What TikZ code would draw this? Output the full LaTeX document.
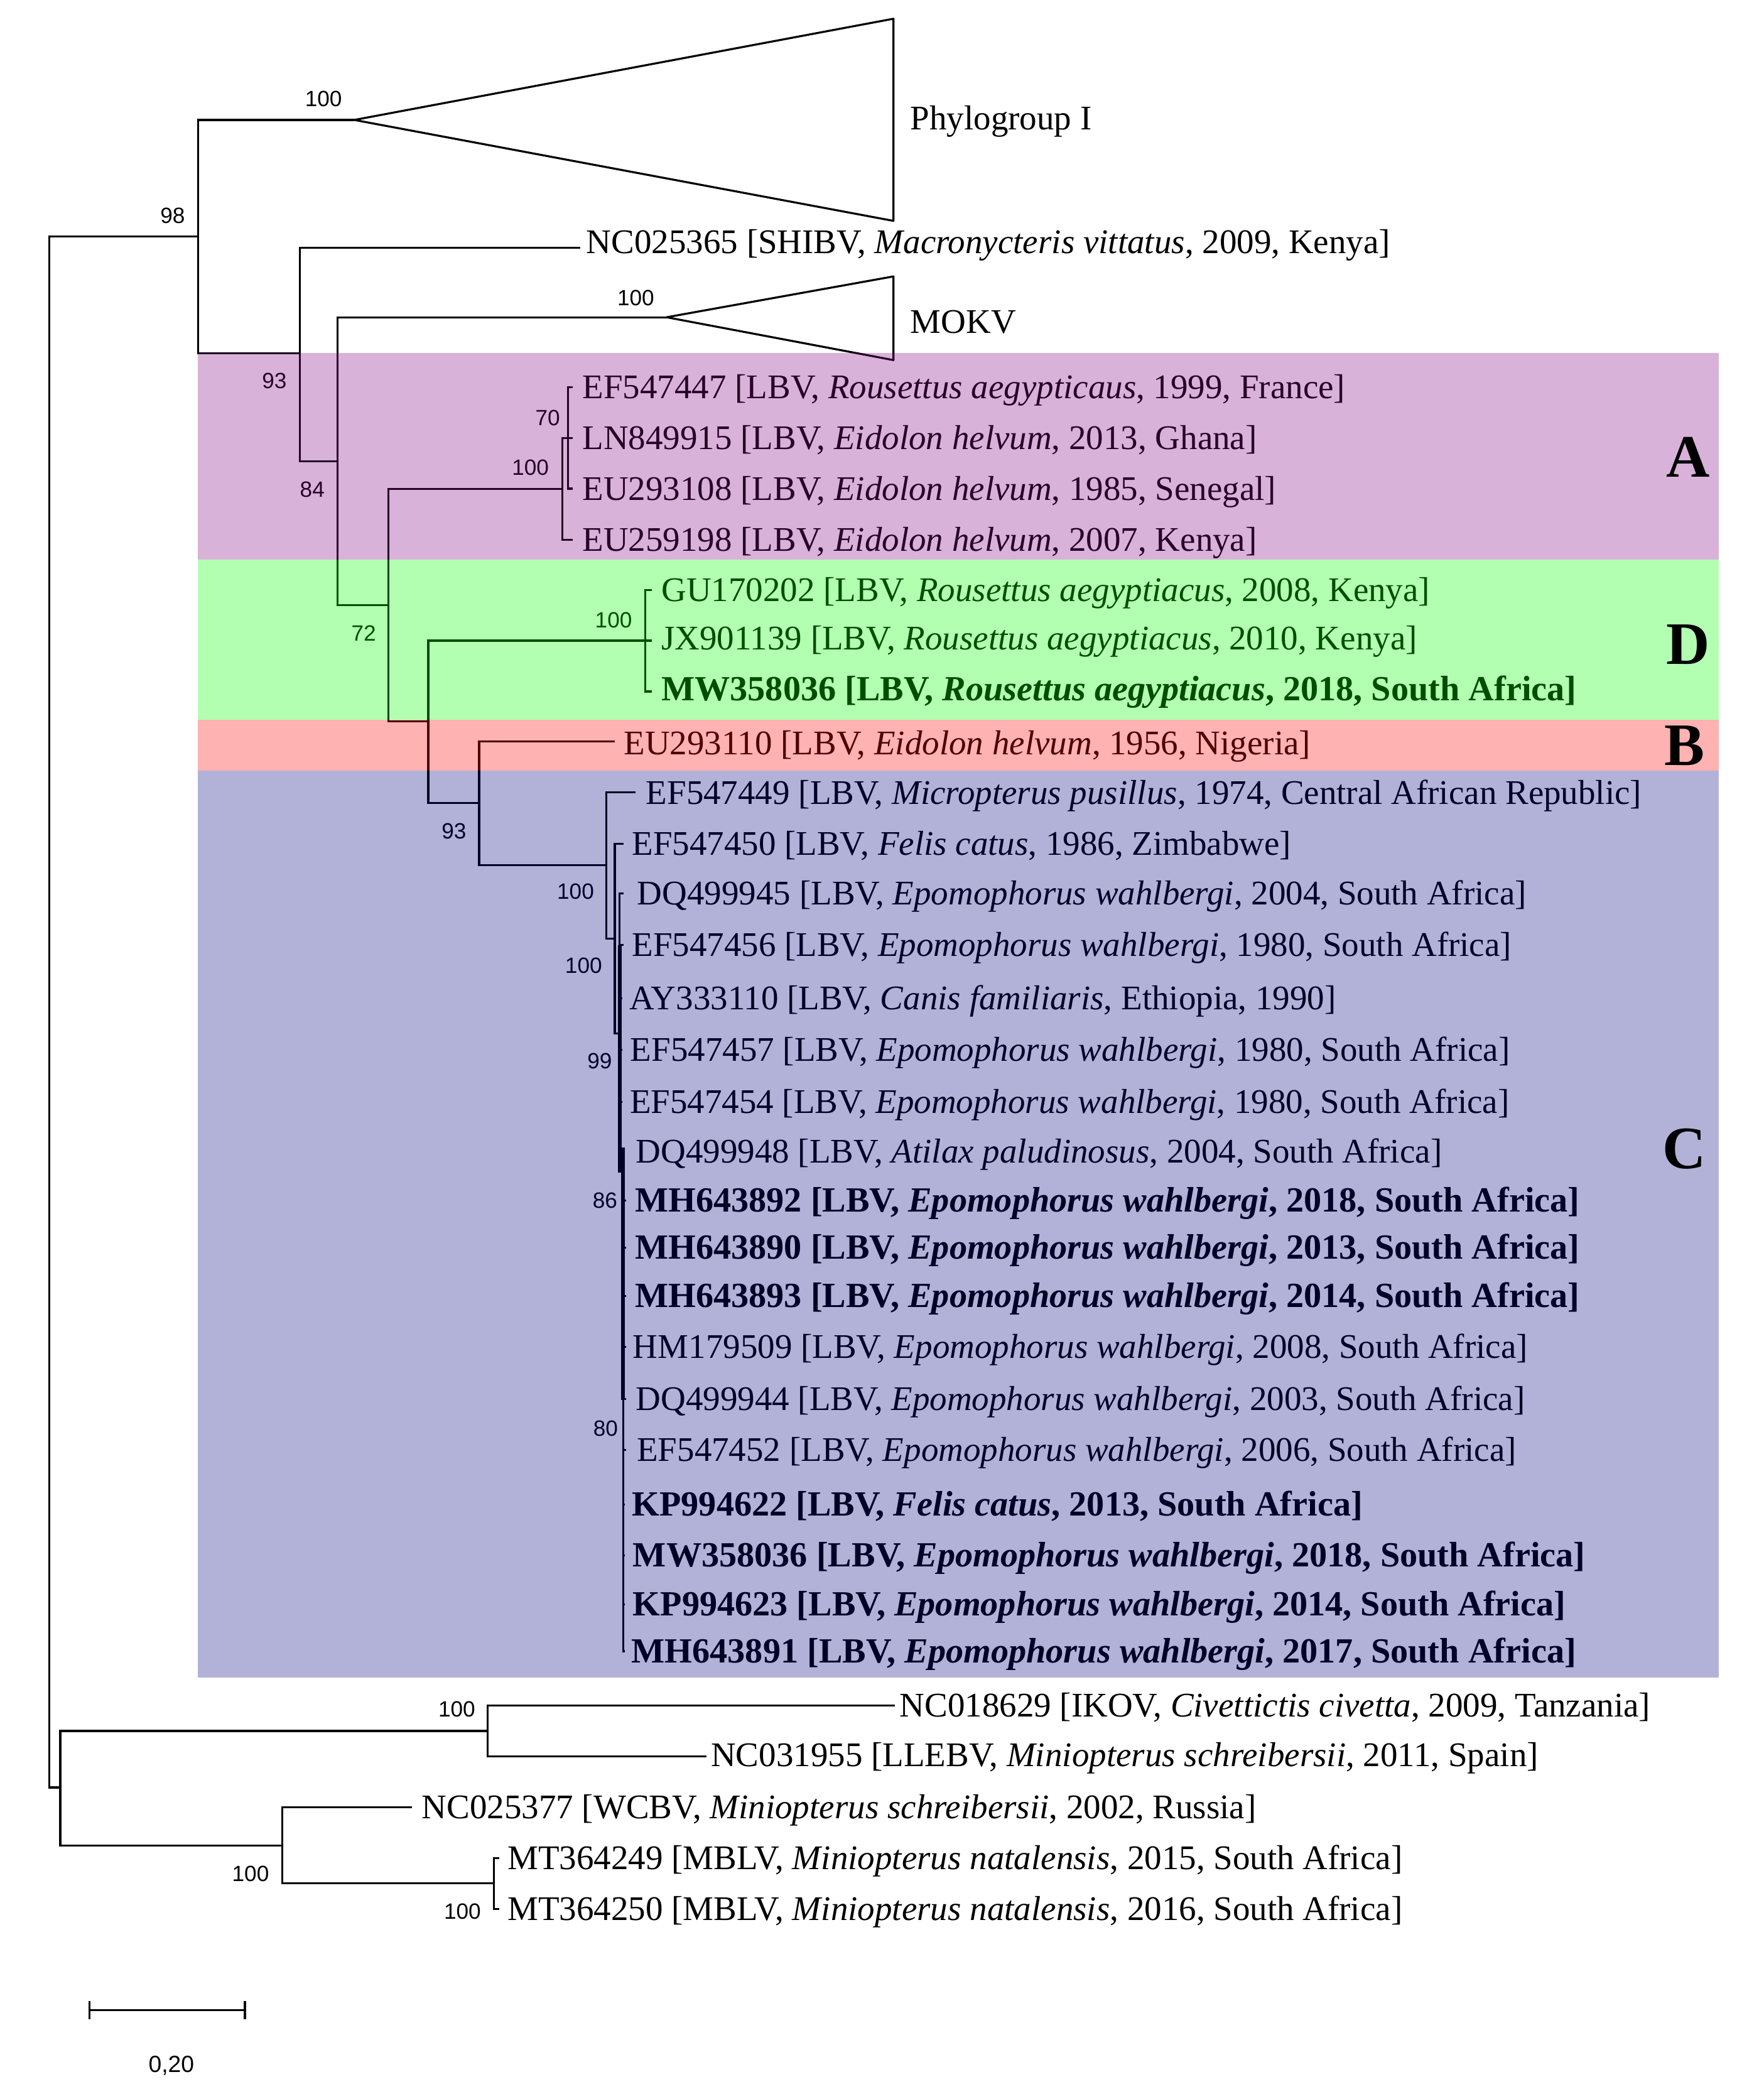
\documentclass[tikz,border=0pt]{standalone}
\usepackage{fontspec}
\setmainfont{Liberation Serif}
\setsansfont{Liberation Sans}
\newcommand\leaffont{\fontsize{25.8}{30}\selectfont}
\newcommand\boldleaf{\bfseries\fontsize{26.4}{30}\selectfont}
\newcommand\bsfont{\sffamily\fontsize{16.5}{19}\selectfont}
\newcommand\cladefont{\bfseries\fontsize{45}{50}\selectfont}
\definecolor{cA}{RGB}{128,0,128}
\definecolor{cD}{RGB}{0,255,0}
\definecolor{cB}{RGB}{255,0,0}
\definecolor{cC}{RGB}{0,0,128}
\begin{document}
\begin{tikzpicture}[x=1pt,y=-1pt,
  br/.style={line width=1.5pt},
  thickbr/.style={line width=2.8pt},
  tri/.style={line width=1.5pt,line join=round},
  leaf/.style={anchor=west,inner sep=0pt,text height=19pt,text depth=2pt,font=\leaffont},
  bleaf/.style={leaf,font=\boldleaf},
  bs/.style={inner sep=0pt,font=\bsfont},
  clade/.style={inner sep=0pt,font=\cladefont},
  band/.style={fill opacity=0.3,draw=none}]
\fill[white] (0,0) rectangle (1317.5,1568);
\useasboundingbox (0,0) rectangle (1317.5,1568);

% ---------- internal nodes ----------
\coordinate (root) at (37,756);
\coordinate (n98) at (148,176.5);
\coordinate (phyA) at (264.7,89.6);
\coordinate (phyT) at (667.5,14);
\coordinate (phyB) at (667.5,165);
\coordinate (n93) at (224,264);
\coordinate (n84) at (252,344.5);
\coordinate (mokA) at (498,237);
\coordinate (mokT) at (667.5,206.5);
\coordinate (mokB) at (667.5,269);
\coordinate (n72) at (290,452);
\coordinate (nA) at (420,365.4);
\coordinate (nA2) at (424.5,327.4);
\coordinate (n93b) at (320,539);
\coordinate (nD) at (482,478.6);
\coordinate (nBC) at (358,600);
\coordinate (nC1) at (453,646.2);
\coordinate (nC2) at (459.3,701);
\coordinate (nC3) at (463,772);
\coordinate (nC4) at (465.5,866);
\coordinate (nOut) at (45,1335.3);
\coordinate (nIK) at (364.3,1293);
\coordinate (nWM) at (211,1378.8);
\coordinate (nMB) at (369,1407);

% ---------- leaf tips ----------
\coordinate (tSH) at (433.5,185);
\coordinate (tA1) at (428,289.4);
\coordinate (tA2) at (428,327.4);
\coordinate (tA3) at (428,365);
\coordinate (tA4) at (428,403.4);
\coordinate (tD1) at (487,440.7);
\coordinate (tD2) at (487,478.6);
\coordinate (tD3) at (487,516.6);
\coordinate (tB1) at (459.4,554);
\coordinate (tC1) at (475,592);
\coordinate (tC2) at (466,630.2);
\coordinate (tC3) at (466,667.4);
\coordinate (tC4) at (466,706);
\coordinate (tC5) at (465,745.6);
\coordinate (tC6) at (465,784.3);
\coordinate (tC7) at (465,823);
\coordinate (tC8) at (467,860);
\coordinate (tC9) at (468,897);
\coordinate (tC10) at (468,932);
\coordinate (tC11) at (468,968);
\coordinate (tC12) at (468,1006);
\coordinate (tC13) at (468,1045);
\coordinate (tC14) at (468,1083);
\coordinate (tC15) at (467,1124);
\coordinate (tC16) at (467,1162);
\coordinate (tC17) at (467,1198.5);
\coordinate (tC18) at (467,1233.5);
\coordinate (tO1) at (668.4,1274);
\coordinate (tO2) at (527.7,1312);
\coordinate (tO3) at (308,1350);
\coordinate (tO4) at (373,1388);
\coordinate (tO5) at (373,1426);

% ---------- branches ----------
\draw[br] (root) |- (n98);
\draw[br] (root) |- (nOut);
\draw[br] (n98) |- (phyA);
\draw[br] (n98) |- (n93);
\draw[tri] (phyA) -- (phyT) -- (phyB) -- cycle;
\draw[br] (n93) |- (tSH);
\draw[br] (n93) |- (n84);
\draw[br] (n84) |- (mokA);
\draw[tri] (mokA) -- (mokT) -- (mokB) -- cycle;
\draw[br] (n84) |- (n72);
\draw[br] (n72) |- (nA);
\draw[br] (n72) |- (n93b);
\draw[br] (nA) |- (nA2);
\draw[br] (nA) |- (tA4);
\draw[br] (nA2) |- (tA1);
\draw[br] (nA2) |- (tA2);
\draw[br] (nA2) |- (tA3);
\draw[br] (n93b) |- (nD);
\draw[br] (n93b) |- (nBC);
\draw[br] (nD) |- (tD1);
\draw[br] (nD) |- (tD2);
\draw[br] (nD) |- (tD3);
\draw[br] (nBC) |- (tB1);
\draw[br] (nBC) |- (nC1);
\draw[br] (nC1) |- (tC1);
\draw[br] (nC1) |- (nC2);
\draw[br] (nC2) |- (tC2);
\draw[br] (nC2) |- (nC3);
\foreach \t in {tC3,tC4,tC5,tC6,tC7,tC8} \draw[br] (nC3) |- (\t);
\draw[br] (nC3) |- (nC4);
\foreach \t in {tC9,tC10,tC11,tC12,tC13,tC14,tC15,tC16,tC17,tC18} \draw[br] (nC4) |- (\t);
\coordinate (k1a) at (463,706);
\coordinate (k1b) at (463,876);
\coordinate (k2a) at (465.5,857);
\coordinate (k2b) at (465.5,1046);
\draw[thickbr] (k1a) -- (k1b);
\draw[thickbr] (k2a) -- (k2b);
\draw[br] (nOut) |- (nIK);
\draw[br] (nOut) |- (nWM);
\draw[br] (nIK) |- (tO1);
\draw[br] (nIK) |- (tO2);
\draw[br] (nWM) |- (tO3);
\draw[br] (nWM) |- (nMB);
\draw[br] (nMB) |- (tO4);
\draw[br] (nMB) |- (tO5);

% ---------- leaf labels ----------
\node[leaf] (phy) at (680,88.5) {Phylogroup I};
\node[leaf] (mok) at (680,240.6) {MOKV};
\node[leaf] (lSH) at (438,181) {NC025365 [SHIBV, \textit{Macronycteris vittatus}, 2009, Kenya]};
\node[leaf] (lA1) at (435,289.4) {EF547447 [LBV, \textit{Rousettus aegypticaus}, 1999, France]};
\node[leaf] (lA2) at (435,327.4) {LN849915 [LBV, \textit{Eidolon helvum}, 2013, Ghana]};
\node[leaf] (lA3) at (435,365) {EU293108 [LBV, \textit{Eidolon helvum}, 1985, Senegal]};
\node[leaf] (lA4) at (435,403.4) {EU259198 [LBV, \textit{Eidolon helvum}, 2007, Kenya]};
\node[leaf] (lD1) at (494,440.7) {GU170202 [LBV, \textit{Rousettus aegyptiacus}, 2008, Kenya]};
\node[leaf] (lD2) at (494,477) {JX901139 [LBV, \textit{Rousettus aegyptiacus}, 2010, Kenya]};
\node[bleaf] (lD3) at (494,515) {MW358036 [LBV, \textit{Rousettus aegyptiacus}, 2018, South Africa]};
\node[leaf] (lB1) at (466,555) {EU293110 [LBV, \textit{Eidolon helvum}, 1956, Nigeria]};
\node[leaf] (lC1) at (482.5,592.5) {EF547449 [LBV, \textit{Micropterus pusillus}, 1974, Central African Republic]};
\node[leaf] (lC2) at (472,630.2) {EF547450 [LBV, \textit{Felis catus}, 1986, Zimbabwe]};
\node[leaf] (lC3) at (476,667.4) {DQ499945 [LBV, \textit{Epomophorus wahlbergi}, 2004, South Africa]};
\node[leaf] (lC4) at (472,706) {EF547456 [LBV, \textit{Epomophorus wahlbergi}, 1980, South Africa]};
\node[leaf] (lC5) at (470,745.6) {AY333110 [LBV, \textit{Canis familiaris}, Ethiopia, 1990]};
\node[leaf] (lC6) at (470.8,784.3) {EF547457 [LBV, \textit{Epomophorus wahlbergi}, 1980, South Africa]};
\node[leaf] (lC7) at (470.4,823) {EF547454 [LBV, \textit{Epomophorus wahlbergi}, 1980, South Africa]};
\node[leaf] (lC8) at (475,860) {DQ499948 [LBV, \textit{Atilax paludinosus}, 2004, South Africa]};
\node[bleaf] (lC9) at (474.3,897) {MH643892 [LBV, \textit{Epomophorus wahlbergi}, 2018, South Africa]};
\node[bleaf] (lC10) at (474.3,932) {MH643890 [LBV, \textit{Epomophorus wahlbergi}, 2013, South Africa]};
\node[bleaf] (lC11) at (474.3,968) {MH643893 [LBV, \textit{Epomophorus wahlbergi}, 2014, South Africa]};
\node[leaf] (lC12) at (472.7,1006) {HM179509 [LBV, \textit{Epomophorus wahlbergi}, 2008, South Africa]};
\node[leaf] (lC13) at (474.9,1045) {DQ499944 [LBV, \textit{Epomophorus wahlbergi}, 2003, South Africa]};
\node[leaf] (lC14) at (475.7,1083) {EF547452 [LBV, \textit{Epomophorus wahlbergi}, 2006, South Africa]};
\node[bleaf] (lC15) at (472.1,1124) {KP994622 [LBV, \textit{Felis catus}, 2013, South Africa]};
\node[bleaf] (lC16) at (472.7,1162) {MW358036 [LBV, \textit{Epomophorus wahlbergi}, 2018, South Africa]};
\node[bleaf] (lC17) at (472.7,1198.5) {KP994623 [LBV, \textit{Epomophorus wahlbergi}, 2014, South Africa]};
\node[bleaf] (lC18) at (471.6,1233.5) {MH643891 [LBV, \textit{Epomophorus wahlbergi}, 2017, South Africa]};
\node[leaf] (lO1) at (672,1274) {NC018629 [IKOV, \textit{Civettictis civetta}, 2009, Tanzania]};
\node[leaf] (lO2) at (531,1311) {NC031955 [LLEBV, \textit{Miniopterus schreibersii}, 2011, Spain]};
\node[leaf] (lO3) at (315,1350) {NC025377 [WCBV, \textit{Miniopterus schreibersii}, 2002, Russia]};
\node[leaf] (lO4) at (379,1388) {MT364249 [MBLV, \textit{Miniopterus natalensis}, 2015, South Africa]};
\node[leaf] (lO5) at (379,1426) {MT364250 [MBLV, \textit{Miniopterus natalensis}, 2016, South Africa]};

% ---------- bootstrap values ----------
\node[bs] (b1) at (241.7,73.8) {100};
\node[bs] (b2) at (129,161) {98};
\node[bs] (b3) at (205,284.7) {93};
\node[bs] (b4) at (475,222.6) {100};
\node[bs] (b5) at (233.3,365.9) {84};
\node[bs] (b6) at (409.2,312.4) {70};
\node[bs] (b7) at (396.3,349.4) {100};
\node[bs] (b8) at (271.7,472.8) {72};
\node[bs] (b9) at (458.4,463.1) {100};
\node[bs] (b10) at (339.2,621) {93};
\node[bs] (b11) at (430,666) {100};
\node[bs] (b12) at (436,721.5) {100};
\node[bs] (b13) at (448,792.7) {99};
\node[bs] (b14) at (452,896.8) {86};
\node[bs] (b15) at (452.5,1067) {80};
\node[bs] (b16) at (341.3,1277) {100};
\node[bs] (b17) at (187.2,1399.7) {100};
\node[bs] (b18) at (345.5,1428) {100};

% ---------- scale bar ----------
\coordinate (sbL) at (67,1501.6);
\coordinate (sbR) at (183,1501.6);
\draw[br] (sbL) -- (sbR);
\draw[br] ([yshift=-6.7pt]sbL) -- ([yshift=6.7pt]sbL);
\draw[br] ([yshift=-6.7pt]sbR) -- ([yshift=6.7pt]sbR);
\node[bs,font=\sffamily\fontsize{17.5}{20}\selectfont] (sblab) at (128,1543) {0,20};

% ---------- clade bands ----------
\fill[band,cA] (148,263.8) rectangle (1284,418);
\fill[band,cD] (148,418) rectangle (1284,537.5);
\fill[band,cB] (148,537.5) rectangle (1284,575.5);
\fill[band,cC] (148,575.5) rectangle (1284,1253);

% ---------- clade letters ----------
\node[clade] (cladeA) at (1261,341.6) {A};
\node[clade] (cladeD) at (1261,481.6) {D};
\node[clade] (cladeB) at (1258.4,557) {B};
\node[clade] (cladeC) at (1258.4,858) {C};
\end{tikzpicture}
\end{document}
